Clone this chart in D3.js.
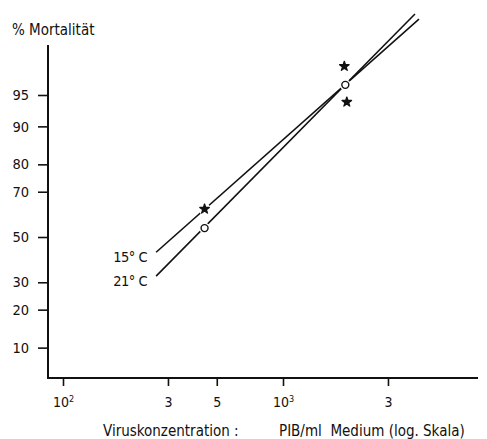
<!DOCTYPE html>
<html>
<head>
<meta charset="utf-8">
<script src="https://cdn.jsdelivr.net/npm/d3@7"></script>
<style>
  body { margin: 0; background: #fff; }
  svg text { font-family: "DejaVu Sans Condensed", "DejaVu Sans", sans-serif; fill: #111; }
</style>
</head>
<body>
<div id="chart"></div>
<script>
// mortality (%) vs virus concentration (PIB/ml), probit vs log scale
const xTicks = [100, 300, 500, 1000, 3000];
const xTickLabels = ["10|2", "3", "5", "10|3", "3"];
const yTicks = [10, 20, 30, 50, 70, 80, 90, 95];

const series = ["15° C", "21° C"];
// fitted lines: [concentration, mortality %] at both ends
const line15 = [[265, 43], [4150, 99.42]];
const line21 = [[265, 32.5], [3980, 99.51]];
// measured points
const points15 = [[440, 62.7], [1900, 97.6], [1950, 94.1]];
const points21 = [[440, 54.1], [1920, 96.1]];

// inverse normal cdf (Acklam)
function probit(p) {
  const a = [-3.969683028665376e+01, 2.209460984245205e+02, -2.759285104469687e+02, 1.383577518672690e+02, -3.066479806614716e+01, 2.506628277459239e+00];
  const b = [-5.447609879822406e+01, 1.615858368580409e+02, -1.556989798598866e+02, 6.680131188771972e+01, -1.328068155288572e+01];
  const c = [-7.784894002430293e-03, -3.223964580411365e-01, -2.400758277161838e+00, -2.549732539343734e+00, 4.374664141464968e+00, 2.938163982698783e+00];
  const d = [7.784695709041462e-03, 3.224671290700398e-01, 2.445134137142996e+00, 3.754408661907416e+00];
  const pl = 0.02425;
  let q, r;
  if (p < pl) {
    q = Math.sqrt(-2 * Math.log(p));
    return (((((c[0]*q+c[1])*q+c[2])*q+c[3])*q+c[4])*q+c[5]) / ((((d[0]*q+d[1])*q+d[2])*q+d[3])*q+1);
  }
  if (p > 1 - pl) {
    q = Math.sqrt(-2 * Math.log(1 - p));
    return -(((((c[0]*q+c[1])*q+c[2])*q+c[3])*q+c[4])*q+c[5]) / ((((d[0]*q+d[1])*q+d[2])*q+d[3])*q+1);
  }
  q = p - 0.5; r = q * q;
  return (((((a[0]*r+a[1])*r+a[2])*r+a[3])*r+a[4])*r+a[5])*q / (((((b[0]*r+b[1])*r+b[2])*r+b[3])*r+b[4])*r+1);
}

const width = 487, height = 439;
const axisX = 48, axisY = 378, axisTop = 45, axisRight = 478;

const x = d3.scaleLog().domain([100, 1000]).range([63, 283]);
const y = d3.scaleLinear().domain([0, probit(0.95)]).range([237, 95]);
const yp = p => y(probit(p / 100));

const svg = d3.select("#chart").append("svg")
  .attr("width", width)
  .attr("height", height);

// axes lines
svg.append("path")
  .attr("d", `M${axisX},${axisTop}V${axisY}H${axisRight}`)
  .attr("fill", "none")
  .attr("stroke", "#111")
  .attr("stroke-width", 2);

const xAxis = svg.append("g")
  .attr("transform", `translate(0,${axisY})`)
  .call(d3.axisBottom(x).tickValues(xTicks).tickSize(8).tickPadding(11).tickFormat(""));
xAxis.select(".domain").remove();
xAxis.selectAll("line").attr("stroke", "#111").attr("stroke-width", 1.6);
xAxis.selectAll("text")
  .attr("font-size", 14)
  .each(function(d, i) {
    const parts = xTickLabels[i].split("|");
    const t = d3.select(this);
    t.append("tspan").text(parts[0]);
    if (parts[1]) {
      t.append("tspan").attr("font-size", 9).attr("dy", "-0.55em").text(parts[1]);
    }
  });

const yAxis = svg.append("g")
  .attr("transform", `translate(${axisX},0)`)
  .call(d3.axisLeft(y)
    .tickValues(yTicks.map(p => probit(p / 100)))
    .tickSize(10).tickPadding(9)
    .tickFormat((d, i) => yTicks[i]));
yAxis.select(".domain").remove();
yAxis.selectAll("line").attr("stroke", "#111").attr("stroke-width", 1.6);
yAxis.selectAll("text").attr("font-size", 14.5);

// fitted lines
const lineGen = d3.line().x(d => x(d[0])).y(d => yp(d[1]));
[line15, line21].forEach(l => {
  svg.append("path")
    .attr("d", lineGen(l))
    .attr("fill", "none")
    .attr("stroke", "#111")
    .attr("stroke-width", 1.6);
});

// series labels
svg.selectAll(".lab")
  .data([[series[0], line15[0]], [series[1], line21[0]]])
  .join("text")
    .attr("class", "lab")
    .attr("x", d => x(d[1][0]) - 9)
    .attr("y", d => yp(d[1][1]) + 10)
    .attr("text-anchor", "end")
    .attr("font-size", 14.5)
    .attr("letter-spacing", -0.5)
    .text(d => d[0]);

// points
svg.selectAll(".p15h")
  .data(points15)
  .join("circle")
    .attr("class", "p15h")
    .attr("cx", d => x(d[0]))
    .attr("cy", d => yp(d[1]))
    .attr("r", 6)
    .attr("fill", "#fff");
const star = d3.symbol().type(d3.symbolStar).size(28);
svg.selectAll(".p15")
  .data(points15)
  .join("path")
    .attr("class", "p15")
    .attr("transform", d => `translate(${x(d[0])},${yp(d[1])})`)
    .attr("d", star)
    .attr("fill", "#111")
    .attr("stroke", "#111")
    .attr("stroke-width", 1.3)
    .attr("stroke-linejoin", "round");

svg.selectAll(".p21")
  .data(points21)
  .join("circle")
    .attr("class", "p21")
    .attr("cx", d => x(d[0]))
    .attr("cy", d => yp(d[1]))
    .attr("r", 5.5)
    .attr("fill", "#fff");
svg.selectAll(".p21b")
  .data(points21)
  .join("circle")
    .attr("class", "p21b")
    .attr("cx", d => x(d[0]))
    .attr("cy", d => yp(d[1]))
    .attr("r", 3.5)
    .attr("fill", "#fff")
    .attr("stroke", "#111")
    .attr("stroke-width", 1.4);

// titles
svg.append("text")
  .attr("x", 12)
  .attr("y", 35)
  .attr("font-family", "DejaVu Sans")
  .attr("font-size", 15)
  .text("% Mortalität");

svg.append("text")
  .attr("x", 103)
  .attr("y", 436)
  .attr("font-family", "DejaVu Sans")
  .attr("font-size", 15)
  .attr("xml:space", "preserve")
  .text("Viruskonzentration :");
svg.append("text")
  .attr("x", 279)
  .attr("y", 436)
  .attr("font-family", "DejaVu Sans")
  .attr("font-size", 15)
  .attr("xml:space", "preserve")
  .text("PIB/ml  Medium (log. Skala)");
</script>
</body>
</html>
